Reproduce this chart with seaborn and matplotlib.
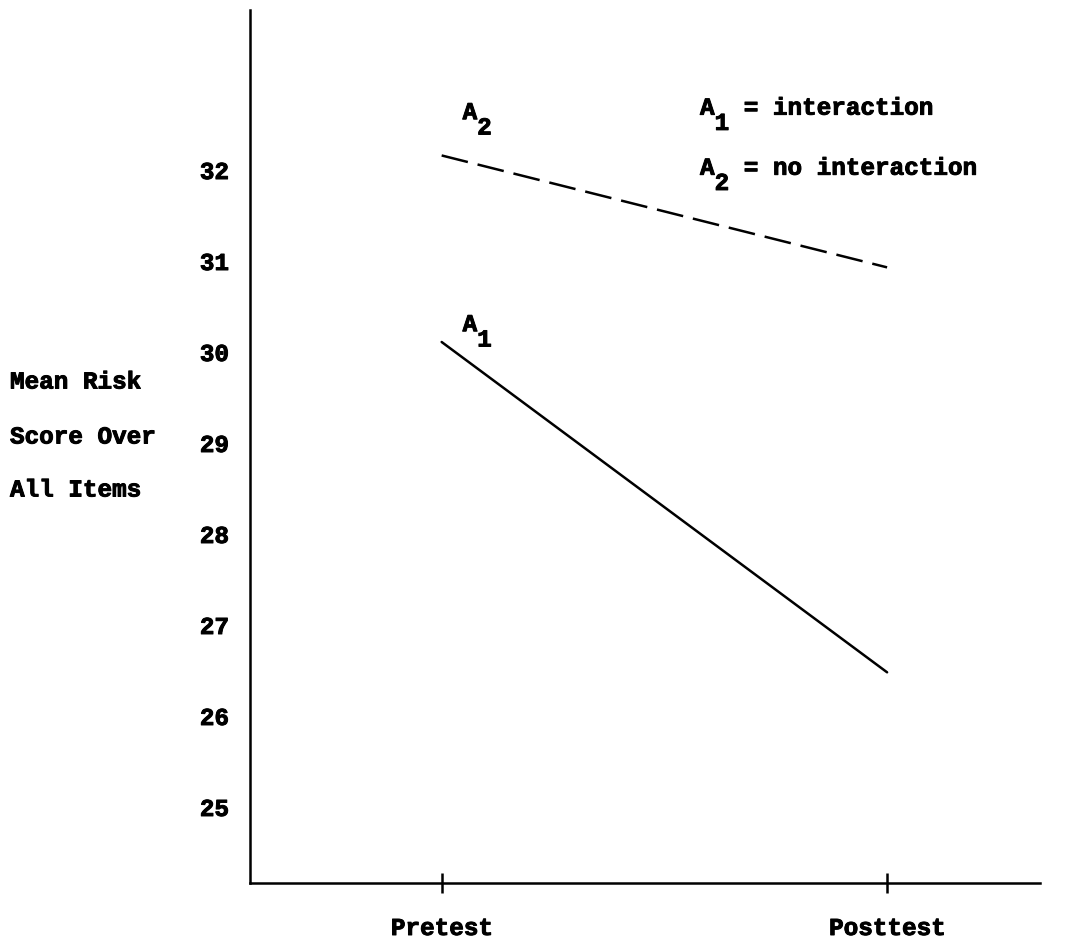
import matplotlib
matplotlib.use("Agg")
import matplotlib.pyplot as plt
import matplotlib.patheffects as pe
import seaborn as sns
import pandas as pd

# ---- data ----
phases = ["Pretest", "Posttest"]
a1_scores = [30.11, 26.48]   # A1 = interaction
a2_scores = [32.16, 30.93]   # A2 = no interaction
y_ticks = [25, 26, 27, 28, 29, 30, 31, 32]
ylabel_lines = ["Mean Risk", "Score Over", "All Items"]
legend_lines = [("1", "interaction"), ("2", "no interaction")]

sns.set_theme(style="white")
plt.rcParams["font.family"] = ["Liberation Mono", "DejaVu Sans Mono"]
plt.rcParams["font.weight"] = "bold"
FS = 17.5
CHAR_PT = FS * 0.6  # monospace advance in points
HEAVY = [pe.withStroke(linewidth=0.7, foreground="black")]

fig = plt.figure(figsize=(10.67, 9.48), dpi=100)
ax = fig.add_axes([0.234, 0.0686, 0.741, 0.921])

df = pd.DataFrame({
    "phase_idx": [0, 1, 0, 1],
    "score": a1_scores + a2_scores,
    "group": ["A1", "A1", "A2", "A2"],
})
sns.lineplot(data=df, x="phase_idx", y="score", style="group",
             dashes={"A1": "", "A2": (10.8, 4)}, color="black",
             linewidth=1.8, ax=ax, legend=False)

ax.set_xlim(-0.431, 1.344)
ax.set_ylim(24.165, 33.76)
ax.set_xticks([0, 1], phases)
ax.set_yticks(y_ticks, [str(t) for t in y_ticks])
ax.set_xlabel("")
ax.set_ylabel("")
ax.tick_params(axis="x", bottom=True, direction="inout", length=15,
               width=1.8, color="black", pad=17, labelsize=FS,
               labelcolor="black")
ax.tick_params(axis="y", left=False, length=0, pad=15, labelsize=FS,
               labelcolor="black")
for lab in ax.get_xticklabels() + ax.get_yticklabels():
    lab.set_path_effects(HEAVY)
for s in ["top", "right"]:
    ax.spines[s].set_visible(False)
for s in ["left", "bottom"]:
    ax.spines[s].set_color("black")
    ax.spines[s].set_linewidth(1.8)


def put(x, y, txt, dx=0, dy=0):
    ax.annotate(txt, xy=(x, y), xycoords="data", xytext=(dx, dy),
                textcoords="offset points", ha="left", va="center",
                fontsize=FS, fontweight="bold", color="black",
                annotation_clip=False, path_effects=HEAVY)


def sub_label(x, y, sub, rest=""):
    put(x, y, "A")
    put(x, y, sub, dx=CHAR_PT, dy=-11)
    if rest:
        put(x, y, rest, dx=3 * CHAR_PT)


# line labels
sub_label(0.047, 32.63, "2")
sub_label(0.047, 30.30, "1")

# legend text
sub_label(0.58, 32.68, legend_lines[0][0], "= " + legend_lines[0][1])
sub_label(0.58, 32.02, legend_lines[1][0], "= " + legend_lines[1][1])

# y-axis label lines at left
for txt, ypx in zip(ylabel_lines, [382, 437, 490]):
    fig.text(10 / 1067, 1 - ypx / 948, txt, ha="left", va="center",
             fontsize=FS, fontweight="bold", color="black",
             path_effects=HEAVY)

fig.savefig("out.png", dpi=100)
